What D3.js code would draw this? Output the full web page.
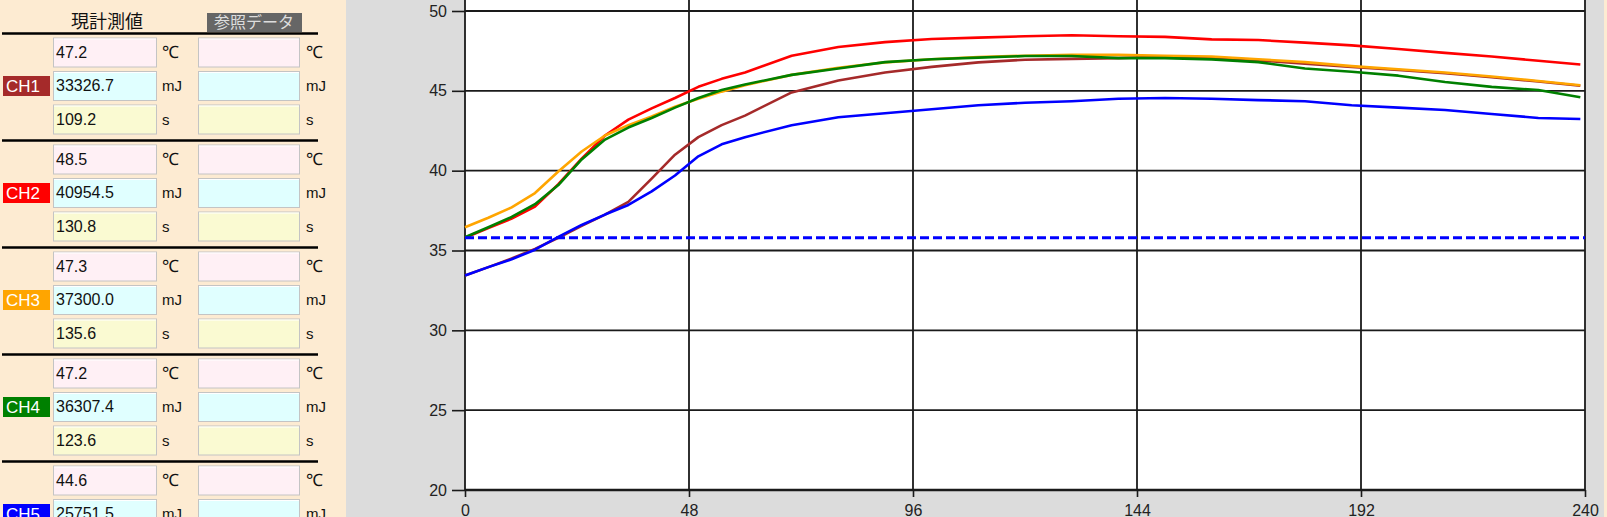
<!DOCTYPE html>
<html>
<head>
<meta charset="utf-8">
<script src="https://cdn.jsdelivr.net/npm/d3@7/dist/d3.min.js"></script>
<style>
  body { margin: 0; overflow: hidden; background: #dcdcdc; }
  svg { display: block; font-family: "Liberation Sans", Arial, sans-serif; }
</style>
</head>
<body>
<div id="chart"></div>
<script>
// time axis (s)
const times = [0, 5, 10, 15, 20, 25, 30, 35, 40, 45, 50, 55, 60, 70, 80, 90, 100, 110,
  120, 130, 140, 150, 160, 170, 180, 190, 200, 210, 220, 230, 239];

// temperatures (degC)
const ch1 = [33.44, 33.96, 34.5, 35.1, 35.8, 36.55, 37.25, 38.05, 39.5, 41.0, 42.1, 42.85, 43.45,
  44.9, 45.65, 46.15, 46.5, 46.78, 46.95, 47.0, 47.05, 47.15, 47.08, 46.9, 46.7, 46.5, 46.3,
  46.1, 45.85, 45.58, 45.32];
const ch2 = [35.8, 36.4, 37.0, 37.75, 39.15, 40.75, 42.2, 43.2, 43.9, 44.55, 45.25, 45.75, 46.15,
  47.2, 47.75, 48.05, 48.25, 48.33, 48.42, 48.48, 48.42, 48.38, 48.22, 48.18, 48.02, 47.85,
  47.62, 47.38, 47.15, 46.88, 46.65];
const ch3 = [36.46, 37.05, 37.7, 38.6, 39.95, 41.2, 42.2, 42.85, 43.4, 44.0, 44.5, 44.95, 45.35,
  46.0, 46.45, 46.78, 46.98, 47.12, 47.2, 47.25, 47.25, 47.2, 47.15, 46.98, 46.8, 46.55,
  46.35, 46.15, 45.9, 45.62, 45.35];
const ch4 = [35.83, 36.46, 37.1, 37.9, 39.1, 40.7, 41.95, 42.7, 43.3, 43.95, 44.55, 45.05, 45.4,
  46.0, 46.4, 46.8, 46.98, 47.08, 47.18, 47.18, 47.05, 47.05, 46.97, 46.8, 46.4, 46.2,
  45.95, 45.55, 45.25, 45.05, 44.6];
const ch5 = [33.44, 33.96, 34.45, 35.05, 35.85, 36.6, 37.25, 37.85, 38.7, 39.7, 40.9, 41.65, 42.1,
  42.85, 43.35, 43.6, 43.85, 44.1, 44.25, 44.35, 44.5, 44.55, 44.5, 44.42, 44.35, 44.1,
  43.95, 43.8, 43.55, 43.3, 43.24];
const referenceTemp = 35.8;

const channels = ['CH1', 'CH2', 'CH3', 'CH4', 'CH5'];
const chColors = ['#a52a2a', '#ff0000', '#ffa500', '#008000', '#0000ff'];
const tempVals = ['47.2', '48.5', '47.3', '47.2', '44.6'];
const energyVals = ['33326.7', '40954.5', '37300.0', '36307.4', '25751.5'];
const timeVals = ['109.2', '130.8', '135.6', '123.6', ''];
const units = ['℃', 'mJ', 's'];
const boxColors = ['#fff0f5', '#e0ffff', '#fafad2'];

const xTicks = [0, 48, 96, 144, 192, 240];
const yTicks = [20, 25, 30, 35, 40, 45, 50];

const W = 1607, H = 517;
const plot = {left: 465, right: 1585, top: 0, bottom: 490};

const svg = d3.select('#chart').append('svg')
  .attr('width', W)
  .attr('height', H);

// backgrounds
svg.append('rect').attr('width', W).attr('height', H).attr('fill', '#dcdcdc');
svg.append('rect').attr('width', 346).attr('height', H).attr('fill', '#fdebd2');
svg.append('rect').attr('x', 1604).attr('width', 3).attr('height', H).attr('fill', '#fdebd2');

// ---------- left panel ----------
const panel = svg.append('g');

panel.append('text')
  .attr('x', 107).attr('y', 28)
  .attr('text-anchor', 'middle')
  .attr('font-size', 18)
  .attr('font-family', '"Noto Sans CJK JP", sans-serif')
  .attr('fill', '#111')
  .text('現計測値');

panel.append('rect')
  .attr('x', 207).attr('y', 13).attr('width', 95).attr('height', 19)
  .attr('fill', '#666');
panel.append('text')
  .attr('x', 254).attr('y', 28)
  .attr('text-anchor', 'middle')
  .attr('font-size', 16)
  .attr('font-family', '"Noto Sans CJK JP", sans-serif')
  .attr('fill', '#ddd')
  .text('参照データ');

channels.forEach(function (ch, g) {
  const line = 33.5 + 107 * g;
  panel.append('line')
    .attr('x1', 2).attr('x2', 318)
    .attr('y1', line).attr('y2', line)
    .attr('stroke', '#000').attr('stroke-width', 2.5);

  const vals = [tempVals[g], energyVals[g], timeVals[g]];
  vals.forEach(function (v, i) {
    const top = line + 4 + 33.5 * i;
    [53, 198].forEach(function (bx, c) {
      const bw = c === 0 ? 103 : 101;
      panel.append('rect')
        .attr('x', bx + 0.5).attr('y', top + 0.5)
        .attr('width', bw).attr('height', 29)
        .attr('fill', boxColors[i])
        .attr('stroke', '#c4c4c4');
      panel.append('line')
        .attr('x1', bx + 1).attr('x2', bx + bw)
        .attr('y1', top + 1.5).attr('y2', top + 1.5)
        .attr('stroke', '#fff');
      panel.append('text')
        .attr('x', c === 0 ? 162 : 306)
        .attr('y', top + 20)
        .attr('font-size', i === 0 ? 17 : 15)
        .attr('fill', '#111')
        .text(units[i]);
    });
    if (v) {
      panel.append('text')
        .attr('x', 56).attr('y', top + 20)
        .attr('font-size', 16)
        .attr('fill', '#111')
        .text(v);
    }
  });

  const labelTop = line + 4 + 33.5 + 5;
  panel.append('rect')
    .attr('x', 3).attr('y', labelTop)
    .attr('width', 47).attr('height', 20)
    .attr('fill', chColors[g]);
  panel.append('text')
    .attr('x', 6).attr('y', labelTop + 16)
    .attr('font-size', 17)
    .attr('fill', '#fff')
    .text(ch);
});

// ---------- chart ----------
const x = d3.scaleLinear().domain([0, 240]).range([plot.left, plot.right]);
const y = d3.scaleLinear().domain([20, 50]).range([plot.bottom, 11]);

svg.append('rect')
  .attr('x', plot.left).attr('y', plot.top)
  .attr('width', plot.right - plot.left).attr('height', plot.bottom - plot.top)
  .attr('fill', '#fff');

const grid = svg.append('g').attr('class', 'grid');
grid.selectAll('line.h').data(yTicks).join('line')
  .attr('class', 'h')
  .attr('x1', plot.left).attr('x2', plot.right)
  .attr('y1', function (d) { return y(d); })
  .attr('y2', function (d) { return y(d); })
  .attr('stroke', '#1a1a1a')
  .attr('stroke-width', function (d) { return d === 20 ? 2.6 : 1.8; });
grid.selectAll('line.v').data(xTicks).join('line')
  .attr('class', 'v')
  .attr('x1', function (d) { return x(d); })
  .attr('x2', function (d) { return x(d); })
  .attr('y1', plot.top).attr('y2', plot.bottom)
  .attr('stroke', '#1a1a1a')
  .attr('stroke-width', 1.8);

const yAxis = svg.append('g')
  .attr('transform', 'translate(' + plot.left + ',0)')
  .call(d3.axisLeft(y).tickValues(yTicks).tickSize(13).tickPadding(5));
const xAxis = svg.append('g')
  .attr('transform', 'translate(0,' + plot.bottom + ')')
  .call(d3.axisBottom(x).tickValues(xTicks).tickSize(7).tickPadding(8));

[yAxis, xAxis].forEach(function (a) {
  a.select('.domain').remove();
  a.selectAll('line').attr('stroke', '#1a1a1a').attr('stroke-width', 1.6);
  a.selectAll('text')
    .attr('font-size', 16)
    .attr('font-family', '"Liberation Sans", Arial, sans-serif')
    .attr('fill', '#222');
});

const series = [ch1, ch2, ch3, ch4, ch5];
const line = d3.line()
  .x(function (d) { return x(d[0]); })
  .y(function (d) { return y(d[1]); });

series.forEach(function (vals, i) {
  svg.append('path')
    .attr('d', line(times.map(function (t, k) { return [t, vals[k]]; })))
    .attr('fill', 'none')
    .attr('stroke', chColors[i])
    .attr('stroke-width', 2.6)
    .attr('stroke-linejoin', 'round');
});

svg.append('line')
  .attr('x1', plot.left).attr('x2', plot.right)
  .attr('y1', y(referenceTemp)).attr('y2', y(referenceTemp))
  .attr('stroke', '#0000ff')
  .attr('stroke-width', 3)
  .attr('stroke-dasharray', '9,4');
</script>
</body>
</html>
